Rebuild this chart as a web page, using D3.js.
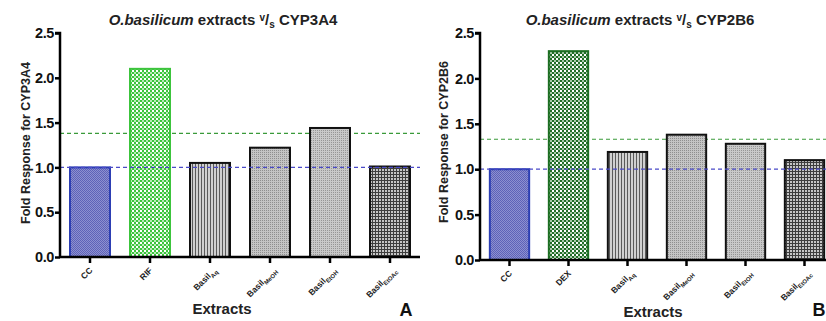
<!DOCTYPE html>
<html>
<head>
<meta charset="utf-8">
<script src="https://cdn.jsdelivr.net/npm/d3@7"></script>
<style>
  body { margin: 0; background: #fff; }
  text { font-family: "Liberation Sans", Arial, sans-serif; }
</style>
</head>
<body>
<div id="chart"></div>
<script>
// data
var labelMain = ["CC", "RIF", "Basil", "Basil", "Basil", "Basil"];
var labelMainB = ["CC", "DEX", "Basil", "Basil", "Basil", "Basil"];
var labelSub = ["", "", "Aq", "MeOH", "EtOH", "EtOAc"];
var valuesA = [1.0, 2.1, 1.05, 1.22, 1.44, 1.01];
var valuesB = [1.0, 2.3, 1.19, 1.38, 1.28, 1.10];
var controlLevel = 1.0;
var thresholdA = 1.38;
var thresholdB = 1.33;
var yTicks = [0, 0.5, 1.0, 1.5, 2.0, 2.5];
var fills = ["pCC", "pRIF", "pAq", "pMeOH", "pEtOH", "pEtOAc"];
var fillsB = ["pCC", "pDEX", "pAq", "pMeOH", "pEtOH", "pEtOAc"];
var strokes = ["#2c3eb3", "#3cc43c", "#111", "#111", "#111", "#111"];
var strokesB = ["#2c3eb3", "#1c6e22", "#111", "#111", "#111", "#111"];

var svg = d3.select("#chart").append("svg")
    .attr("width", 826)
    .attr("height", 321);

// fill patterns
var defs = svg.append("defs");
function pat(id, w, h, bg, draw) {
  var p = defs.append("pattern").attr("id", id)
      .attr("patternUnits", "userSpaceOnUse")
      .attr("width", w).attr("height", h);
  p.append("rect").attr("width", w).attr("height", h).attr("fill", bg);
  draw(p);
}
pat("pCC", 2, 2, "#8d90d0", function(p) {
  p.append("rect").attr("width", 1).attr("height", 1).attr("fill", "#5d62b8");
  p.append("rect").attr("x", 1).attr("y", 1).attr("width", 1).attr("height", 1).attr("fill", "#5d62b8");
});
pat("pRIF", 4, 4, "#ffffff", function(p) {
  p.append("rect").attr("width", 2).attr("height", 2).attr("fill", "#3cc43c");
  p.append("rect").attr("x", 2).attr("y", 2).attr("width", 2).attr("height", 2).attr("fill", "#3cc43c");
  p.append("rect").attr("x", 2).attr("width", 2).attr("height", 2).attr("fill", "#b8eab8");
});
pat("pDEX", 4, 4, "#ffffff", function(p) {
  p.append("rect").attr("width", 2).attr("height", 2).attr("fill", "#226e28");
  p.append("rect").attr("x", 2).attr("y", 2).attr("width", 2).attr("height", 2).attr("fill", "#226e28");
  p.append("rect").attr("x", 2).attr("width", 2).attr("height", 2).attr("fill", "#a9c9ab");
});
pat("pAq", 3, 3, "#d0d0d0", function(p) {
  p.append("rect").attr("width", 1).attr("height", 3).attr("fill", "#5a5a5a");
});
pat("pMeOH", 2, 2, "#c4c4c4", function(p) {
  p.append("rect").attr("width", 1).attr("height", 1).attr("fill", "#8f8f8f");
});
pat("pEtOH", 2, 2, "#c8c8c8", function(p) {
  p.append("rect").attr("x", 1).attr("width", 1).attr("height", 1).attr("fill", "#959595");
});
pat("pEtOAc", 3, 3, "#c6c6c6", function(p) {
  p.append("rect").attr("width", 1).attr("height", 3).attr("fill", "#3e3e3e");
  p.append("rect").attr("width", 3).attr("height", 1).attr("fill", "#3e3e3e");
});

function panel(cfg) {
  var g = svg.append("g");
  var x = d3.scaleBand()
      .domain(d3.range(cfg.values.length))
      .range([cfg.x0, cfg.x1])
      .paddingInner(1 / 3)
      .paddingOuter(1 / 6);
  var y = d3.scaleLinear().domain([0, 2.5]).range([cfg.y0, 33]);

  // reference lines
  g.append("line")
      .attr("x1", cfg.x0).attr("x2", cfg.lineEnd)
      .attr("y1", y(cfg.threshold)).attr("y2", y(cfg.threshold))
      .attr("stroke", "#3a9a3a").attr("stroke-width", 1.2)
      .attr("stroke-dasharray", "4,3");

  // bars
  g.selectAll("rect.bar")
      .data(cfg.values)
      .enter()
      .append("rect")
      .attr("class", "bar")
      .attr("x", (d, i) => x(i))
      .attr("y", d => y(d))
      .attr("width", x.bandwidth())
      .attr("height", d => y(0) - y(d))
      .attr("fill", (d, i) => "url(#" + cfg.fills[i] + ")")
      .attr("stroke", (d, i) => cfg.strokes[i])
      .attr("stroke-width", 2);

  g.append("line")
      .attr("x1", cfg.x0).attr("x2", cfg.lineEnd)
      .attr("y1", y(controlLevel)).attr("y2", y(controlLevel))
      .attr("stroke", "#4a4ac8").attr("stroke-width", 1.2)
      .attr("stroke-dasharray", "4,3");

  // axes
  var leftAxis = d3.axisLeft(y).tickValues(yTicks).tickFormat(d3.format(".1f")).tickSize(5).tickPadding(1);
  var ya = g.append("g").attr("transform", `translate(${cfg.x0},0)`).call(leftAxis);
  ya.selectAll("path, line").attr("stroke", "#000").attr("stroke-width", 2.5);
  ya.select("path").attr("d", `M-5,${y(2.5)}H0V${y(0)}`);
  ya.selectAll("text").attr("font-size", 14.5).attr("font-weight", "bold").attr("fill", "#111")
      .attr("letter-spacing", -0.4)
      .attr("font-family", "Liberation Sans, Arial");

  var bottomAxis = d3.axisBottom(x).tickSize(6).tickFormat("");
  var xa = g.append("g").attr("transform", `translate(0,${cfg.y0})`).call(bottomAxis);
  xa.selectAll("path, line").attr("stroke", "#000").attr("stroke-width", 2.5);
  xa.select("path").attr("d", `M${cfg.x0},0H${cfg.x1}`);

  // rotated category labels
  cfg.labels.forEach(function(lab, i) {
    var cx = x(i) + x.bandwidth() / 2 + 3;
    var t = g.append("text")
        .attr("transform", `translate(${cfg.subs[i] ? cx + 4 : cx},${cfg.y0 + 14}) rotate(-45)`)
        .attr("text-anchor", "end")
        .attr("font-size", 8.5)
        .attr("font-weight", "bold")
        .attr("fill", "#222");
    t.append("tspan").text(lab);
    if (cfg.subs[i]) {
      t.append("tspan").attr("font-size", 6).attr("dy", 2.5).text(cfg.subs[i]);
    }
  });

  // title
  var title = g.append("text")
      .attr("x", cfg.titleX).attr("y", 25)
      .attr("text-anchor", "middle")
      .attr("font-size", 15).attr("font-weight", "bold").attr("fill", "#222");
  title.append("tspan").attr("font-style", "italic").text("O.basilicum");
  title.append("tspan").text(" extracts ");
  title.append("tspan").attr("font-size", 10).attr("dy", -4).text("v");
  title.append("tspan").attr("dy", 4).text("/");
  title.append("tspan").attr("font-size", 10).attr("dy", 3).text("s");
  title.append("tspan").attr("dy", -3).text(" " + cfg.enzyme);

  // axis titles
  g.append("text")
      .attr("transform", `translate(${cfg.yLabelX},${cfg.yLabelY}) rotate(-90)`)
      .attr("text-anchor", "middle")
      .attr("font-size", 12.5).attr("font-weight", "bold").attr("fill", "#222")
      .text("Fold Response for " + cfg.enzyme);

  g.append("text")
      .attr("x", cfg.xLabelX).attr("y", cfg.xLabelY)
      .attr("text-anchor", "middle")
      .attr("font-size", 15).attr("font-weight", "bold").attr("fill", "#222")
      .text("Extracts");

  g.append("text")
      .attr("x", cfg.letterX).attr("y", 316)
      .attr("text-anchor", "middle")
      .attr("font-size", 18).attr("font-weight", "bold").attr("fill", "#111")
      .text(cfg.letter);
}

panel({
  values: valuesA, labels: labelMain, subs: labelSub, fills: fills, strokes: strokes,
  threshold: thresholdA, enzyme: "CYP3A4",
  x0: 60, x1: 420, lineEnd: 420, y0: 257,
  titleX: 223, yLabelX: 30, yLabelY: 143,
  xLabelX: 222, xLabelY: 314, letter: "A", letterX: 406
});

panel({
  values: valuesB, labels: labelMainB, subs: labelSub, fills: fillsB, strokes: strokesB,
  threshold: thresholdB, enzyme: "CYP2B6",
  x0: 480, x1: 834, lineEnd: 826, y0: 260,
  titleX: 640, yLabelX: 448, yLabelY: 142,
  xLabelX: 653, xLabelY: 317, letter: "B", letterX: 819
});
</script>
</body>
</html>
